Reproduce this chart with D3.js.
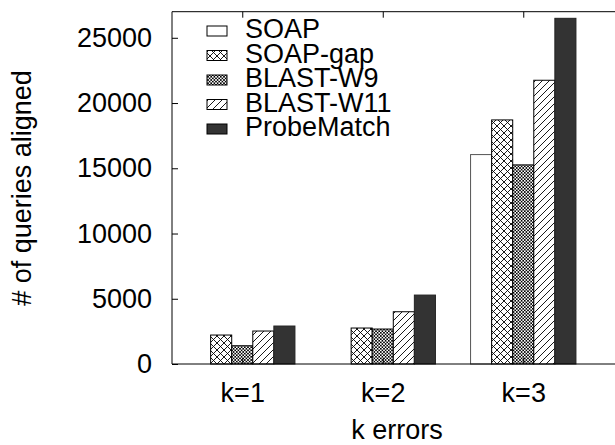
<!DOCTYPE html>
<html>
<head>
<meta charset="utf-8">
<script src="https://cdn.jsdelivr.net/npm/d3@7"></script>
<style>
  html, body { margin: 0; padding: 0; background: #fff; }
  svg { display: block; }
  text { font-family: "Liberation Sans", Arial, Helvetica, sans-serif; fill: #000; }
</style>
</head>
<body>
<svg id="chart" width="615" height="445"></svg>
<script>
// ---- data ----
const categories = ["k=1", "k=2", "k=3"];
const seriesNames = ["SOAP", "SOAP-gap", "BLAST-W9", "BLAST-W11", "ProbeMatch"];
const soap       = [0, 0, 16050];
const soapGap    = [2220, 2757, 18706];
const blastW9    = [1400, 2680, 15260];
const blastW11   = [2527, 4005, 21746];
const probeMatch = [2910, 5283, 26493];
const yTicks = [0, 5000, 10000, 15000, 20000, 25000];
const yLabel = "# of queries aligned";
const xLabel = "k errors";

const seriesValues = [soap, soapGap, blastW9, blastW11, probeMatch];

// ---- layout ----
const svg = d3.select("#chart");
const pLeft = 172, pRight = 734, pTop = 11.7, pBottom = 364;
const FS = 27;

const x = d3.scaleLinear().domain([-0.5, 3.5]).range([pLeft, pRight]);
const y = d3.scaleLinear().domain([0, 27000]).range([pBottom, pTop]);

// ---- patterns ----
const defs = svg.append("defs");
const p1 = defs.append("pattern").attr("id", "pat-gap").attr("patternUnits", "userSpaceOnUse")
  .attr("width", 7).attr("height", 7);
p1.append("rect").attr("width", 7).attr("height", 7).attr("fill", "#fff");
p1.append("path").attr("d", "M0,0 L7,7 M7,0 L0,7").attr("stroke", "#000").attr("stroke-width", 0.9).attr("fill", "none");
const p2 = defs.append("pattern").attr("id", "pat-w9").attr("patternUnits", "userSpaceOnUse")
  .attr("width", 3.2).attr("height", 3.2);
p2.append("rect").attr("width", 3.2).attr("height", 3.2).attr("fill", "#fff");
p2.append("path").attr("d", "M0,0 L3.2,3.2 M3.2,0 L0,3.2").attr("stroke", "#000").attr("stroke-width", 0.8).attr("fill", "none");
const p3 = defs.append("pattern").attr("id", "pat-w11").attr("patternUnits", "userSpaceOnUse")
  .attr("width", 7).attr("height", 7);
p3.append("rect").attr("width", 7).attr("height", 7).attr("fill", "#fff");
p3.append("path").attr("d", "M0,7 L7,0 M-1,1 L1,-1 M6,8 L8,6").attr("stroke", "#000").attr("stroke-width", 0.9).attr("fill", "none");

const fills = ["#fff", "url(#pat-gap)", "url(#pat-w9)", "url(#pat-w11)", "#333"];
const strokes = ["#555", "#000", "#000", "#000", "#222"];

// ---- bars ----
const barW = 0.15;
const bars = [];
seriesValues.forEach((vals, si) => {
  vals.forEach((v, ci) => bars.push({ si, ci, v }));
});
svg.append("g").selectAll("rect").data(bars).join("rect")
  .attr("x", d => x(d.ci + (d.si - 2) * barW - barW / 2))
  .attr("width", d => x(barW) - x(0))
  .attr("y", d => y(d.v))
  .attr("height", d => y(0) - y(d.v))
  .attr("fill", d => fills[d.si])
  .attr("stroke", d => strokes[d.si])
  .attr("stroke-width", 1);

// ---- axes ----
const yAxis = d3.axisLeft(y).tickValues(yTicks).tickFormat(d3.format("d"))
  .tickSizeInner(-6).tickSizeOuter(0).tickPadding(20);
const gy = svg.append("g").attr("transform", `translate(${pLeft},0)`).call(yAxis);
gy.select(".domain").remove();
gy.selectAll("text").attr("font-size", FS).attr("font-family", "Liberation Sans, Arial, sans-serif");

const xAxis = d3.axisBottom(x).tickValues([0, 1, 2]).tickFormat(i => categories[i])
  .tickSizeInner(-6).tickSizeOuter(0).tickPadding(18.5);
const gx = svg.append("g").attr("transform", `translate(0,${pBottom})`).call(xAxis);
gx.select(".domain").remove();
gx.selectAll("text").attr("font-size", FS).attr("font-family", "Liberation Sans, Arial, sans-serif");

const xTop = d3.axisTop(x).tickValues([0, 1, 2]).tickFormat("").tickSizeInner(-6).tickSizeOuter(0);
const gt = svg.append("g").attr("transform", `translate(0,${pTop})`).call(xTop);
gt.select(".domain").remove();

// frame
svg.append("line").attr("x1", pLeft).attr("x2", pRight).attr("y1", pTop).attr("y2", pTop).attr("stroke", "#000");
svg.append("line").attr("x1", pLeft).attr("x2", pRight).attr("y1", pBottom).attr("y2", pBottom).attr("stroke", "#000");
svg.append("line").attr("x1", pLeft).attr("x2", pLeft).attr("y1", pTop).attr("y2", pBottom).attr("stroke", "#000");

// ---- axis titles ----
svg.append("text").attr("transform", "translate(31,188) rotate(-90)")
  .attr("text-anchor", "middle").attr("font-size", FS).text(yLabel);
svg.append("text").attr("x", 397).attr("y", 439)
  .attr("text-anchor", "middle").attr("font-size", FS).text(xLabel);

// ---- legend ----
const lg = svg.append("g");
seriesNames.forEach((name, i) => {
  const by = 38 + i * 24.5;
  lg.append("rect").attr("x", 207).attr("y", by - 12).attr("width", 20).attr("height", 10)
    .attr("fill", fills[i]).attr("stroke", "#000").attr("stroke-width", 1);
  lg.append("text").attr("x", 245).attr("y", by).attr("font-size", FS).text(name);
});
</script>
</body>
</html>
